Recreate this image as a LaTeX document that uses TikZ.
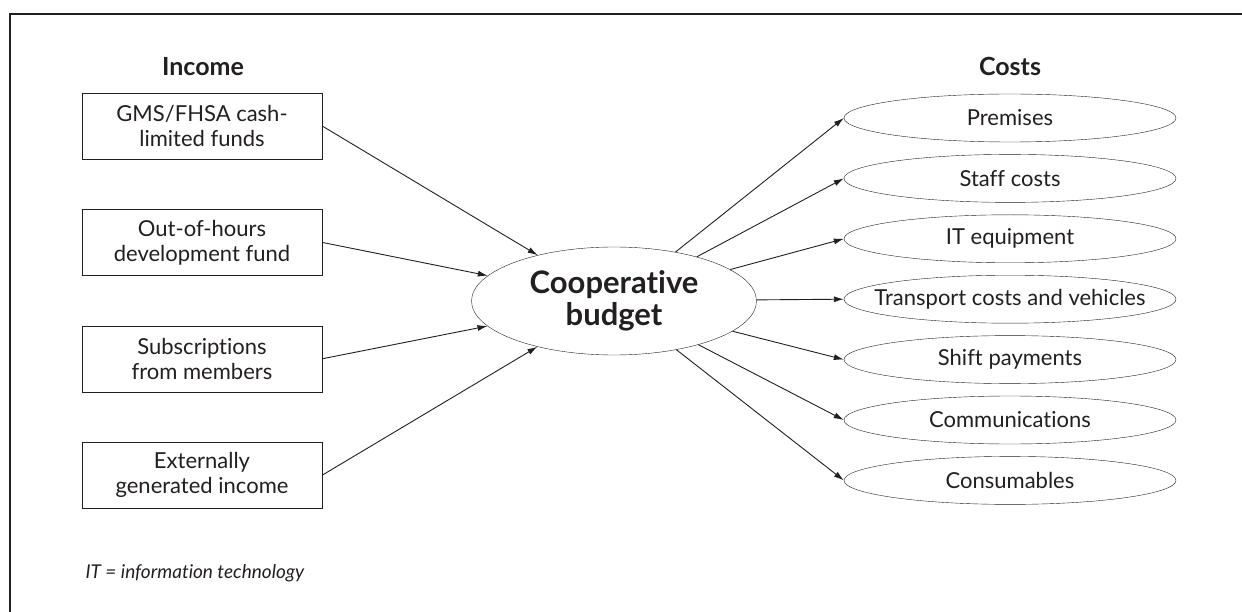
\documentclass[tikz,border=0pt]{standalone}
\usepackage{fontspec}
\setmainfont{Lato}[Ligatures=NoCommon]
\usepackage{tikz}
\usetikzlibrary{positioning, arrows.meta, shapes.geometric}
\definecolor{ink}{HTML}{231F20}

\begin{document}
\begin{tikzpicture}[
  x=1pt, y=-1pt,
  font=\fontsize{22}{25}\selectfont,
  color=ink,
  node distance=50pt and 4mm,
  src/.style={draw, align=center, minimum width=240pt, minimum height=66pt, inner sep=2pt},
  hub/.style={draw, ellipse, align=center, minimum width=285pt, minimum height=108pt, inner sep=0pt, font=\fontsize{31}{32}\selectfont\bfseries},
  cost/.style={draw, ellipse, minimum width=332pt, minimum height=48pt, inner xsep=-30pt, inner ysep=0pt},
  head/.style={font=\fontsize{25}{28}\selectfont\bfseries},
  ar/.style={-{Latex[length=10pt, width=6pt]}, line width=0.9pt}
]
  \useasboundingbox (0,0) rectangle (1242,612);
  \draw[line width=1.4pt] (1242,14) -- (10,14) -- (10,612);

  \node[head] (inc) at (203,67) {Income};
  \node[head] (cst) at (1010,66) {Costs};

  \node[src] (gms) at (202,126) {GMS/FHSA cash-\\limited funds};
  \node[src, below=of gms] (ooh) {Out-of-hours\\development fund};
  \node[src, below=of ooh] (subs) {Subscriptions\\from members};
  \node[src, below=of subs] (ext) {Externally\\generated income};

  \node[hub] (bud) at (614,301) {Cooperative\\budget};

  \node[cost] (prem) at (1010,118) {Premises};
  \node[cost, below=12pt of prem] (staff) {Staff costs};
  \node[cost, below=12pt of staff] (itq) {IT equipment};
  \node[cost, below=12pt of itq] (trans) {Transport costs and vehicles};
  \node[cost, below=12pt of trans] (shift) {Shift payments};
  \node[cost, below=12pt of shift] (comm) {Communications};
  \node[cost, below=12pt of comm] (cons) {Consumables};

  \draw[ar] (gms.east)--(bud);
  \draw[ar] (ooh.east)--(bud);
  \draw[ar] (subs.east)--(bud);
  \draw[ar] (ext.east)--(bud);

  \draw[ar] (bud)--(prem.west);
  \draw[ar] (bud)--(staff.west);
  \draw[ar] (bud)--(itq.west);
  \draw[ar] (bud)--(trans.west);
  \draw[ar] (bud)--(shift.west);
  \draw[ar] (bud)--(comm.west);
  \draw[ar] (bud)--(cons.west);

  \node[anchor=base west, font=\fontsize{19}{22}\selectfont\itshape] (note) at (82,578) {IT = information technology};
\end{tikzpicture}
\end{document}
